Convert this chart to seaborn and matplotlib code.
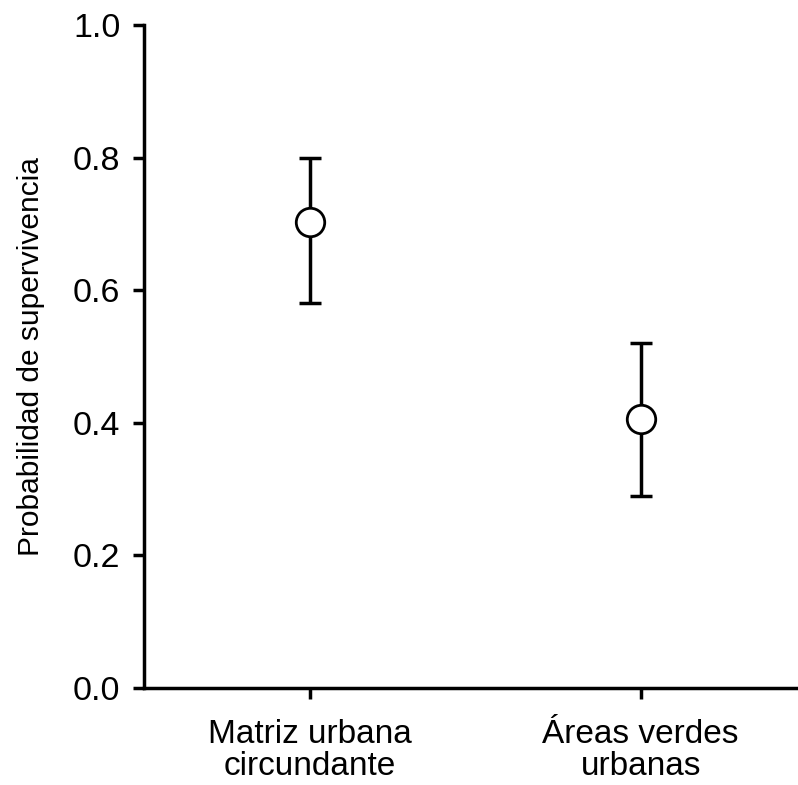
import numpy as np
import pandas as pd
import matplotlib
matplotlib.use("Agg")
import matplotlib.pyplot as plt
import seaborn as sns

# Données
categories = ["Matriz urbana\ncircundante", "Áreas verdes\nurbanas"]
survival = [0.703, 0.406]
ci_low = [0.58, 0.29]
ci_high = [0.80, 0.52]

df = pd.DataFrame({"habitat": categories, "p": survival,
                   "low": ci_low, "high": ci_high})

sns.set_style("ticks")
plt.rcParams["font.family"] = ["Liberation Sans", "DejaVu Sans"]

fig = plt.figure(figsize=(7.98, 7.85), dpi=100)
ax = fig.add_axes([144 / 798, 1 - 688 / 785, 654 / 798, 663 / 785])

x = np.arange(len(df))
ax.errorbar(x, df["p"], yerr=[df["p"] - df["low"], df["high"] - df["p"]],
            fmt="none", ecolor="black", elinewidth=2.5, capsize=8,
            capthick=2.5, zorder=2)
sns.scatterplot(x=x, y=df["p"], ax=ax, s=420, marker="o",
                facecolor="white", edgecolor="black", linewidth=2.0,
                zorder=3, legend=False)

ax.set_xlim(-0.50, 1.475)
ax.set_ylim(0, 1.0)
ax.set_yticks(np.arange(0, 1.01, 0.2))
ax.set_yticklabels([f"{v:.1f}" for v in np.arange(0, 1.01, 0.2)])
ax.set_xticks(x)
ax.set_xticklabels(df["habitat"], linespacing=1.05)
ax.tick_params(axis="both", labelsize=24.5, width=2.5, length=8, direction="out",
               color="black", labelcolor="black")
ax.tick_params(axis="x", labelsize=24)
ax.tick_params(axis="y", pad=9)
ax.tick_params(axis="x", pad=14)
for s in ["left", "bottom"]:
    ax.spines[s].set_linewidth(2.5)
    ax.spines[s].set_color("black")
sns.despine(ax=ax)
ax.set_ylabel("Probabilidad de supervivencia", fontsize=21.5, labelpad=20,
              color="black")
ax.set_xlabel("")

fig.savefig("out.png", dpi=100)
plt.close()
